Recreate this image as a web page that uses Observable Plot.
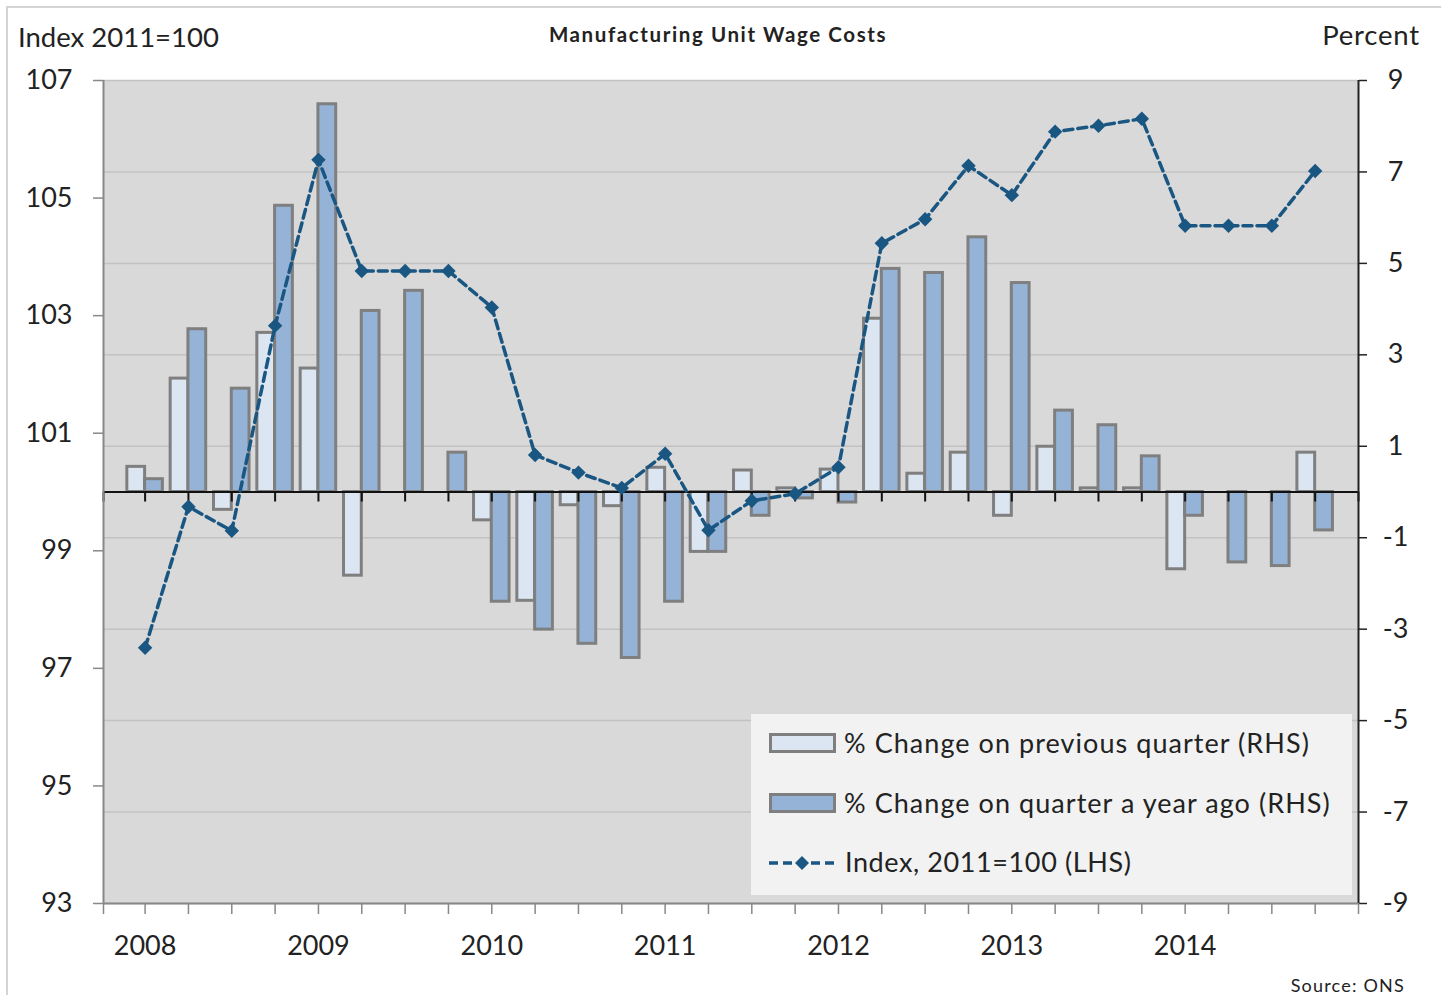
<!DOCTYPE html>
<html>
<head>
<meta charset="utf-8">
<script src="https://cdn.jsdelivr.net/npm/d3@7"></script>
<script src="https://cdn.jsdelivr.net/npm/@observablehq/plot@0.6"></script>
<style>
  body { margin: 0; background: #fff; font-family: Lato, sans-serif; color: #222; }
  #wrap { position: relative; width: 1441px; height: 995px; overflow: hidden; }
  .frame { position: absolute; left: 6px; top: 6px; right: -10px; bottom: -10px;
           border-top: 2px solid #d4d4d4; border-left: 2px solid #d4d4d4; pointer-events: none; }
  #head { height: 62px; }
  .t { position: absolute; white-space: nowrap; line-height: 1; }
  #legend { position: absolute; left: 751px; top: 714px; width: 601px; height: 181px; background: #f2f2f2; }
  .sw { position: absolute; overflow: visible; }
</style>
</head>
<body>
<div id="wrap">
  <div class="frame"></div>
  <div id="head">
    <span class="t" style="left:18px; top:23px; font-size:27.5px;">Index 2011=100</span>
    <span class="t" id="title" style="left:0; width:1436px; text-align:center; top:24px; font-size:20.5px; font-weight:700; letter-spacing:1.6px;">Manufacturing Unit Wage Costs</span>
    <span class="t" style="right:21px; top:21px; font-size:27.5px; letter-spacing:0.8px;">Percent</span>
  </div>
  <div id="chart"></div>
  <div id="legend"></div>
  <span class="t" style="right:36px; top:976px; font-size:18px; letter-spacing:1.2px;">Source: ONS</span>
</div>
<script>
// ---- data ----
const years = [2008, 2009, 2010, 2011, 2012, 2013, 2014];
const quarters = ["Q1", "Q2", "Q3", "Q4"];
// Index, 2011=100 (LHS)
const indexValues = [97.35, 99.75, 99.34, 102.83, 105.65, 103.76, 103.76, 103.76,
                     103.14, 100.63, 100.33, 100.07, 100.65, 99.35, 99.85, 99.97,
                     100.42, 104.23, 104.64, 105.55, 105.05, 106.13, 106.23, 106.35,
                     104.53, 104.53, 104.53, 105.46];
// % change on previous quarter (RHS)
const qoqValues = [0.55, 2.48, -0.39, 3.48, 2.70, -1.83, 0, 0,
                   -0.62, -2.38, -0.29, -0.31, 0.53, -1.31, 0.47, 0.08,
                   0.49, 3.79, 0.40, 0.86, -0.52, 0.99, 0.08, 0.08,
                   -1.69, 0, 0, 0.86];
// % change on quarter a year ago (RHS)
const yoyValues = [0.28, 3.56, 2.26, 6.26, 8.48, 3.96, 4.40, 0.86,
                   -2.40, -3.01, -3.32, -3.63, -2.40, -1.31, -0.52, -0.14,
                   -0.23, 4.88, 4.79, 5.57, 4.57, 1.78, 1.46, 0.78,
                   -0.52, -1.54, -1.62, -0.84];
const leftTicks = [93, 95, 97, 99, 101, 103, 105, 107];
const rightTicks = [-9, -7, -5, -3, -1, 1, 3, 5, 7, 9];
const seriesNames = ["% Change on previous quarter (RHS)", "% Change on quarter a year ago (RHS)", "Index, 2011=100 (LHS)"];

// ---- colours ----
const cLight = "#dce6f2", cDark = "#95b3d7", cEdge = "#7f7f7f", cLine = "#1a5682";

const rows = indexValues.map((v, i) => ({
  i, year: years[Math.floor(i / 4)], q: quarters[i % 4],
  index: v, qoq: qoqValues[i], yoy: yoyValues[i]
}));
// left axis (93..107) shares the vertical range with the right axis (-9..9)
const toPct = v => (v - 100) * 9 / 7;
const fromPct = p => p * 7 / 9 + 100;
const xDomain = [-0.96, 28];
const yDomain = [-9, 9];
const plotH = 823;
const tickLen = 10 * (yDomain[1] - yDomain[0]) / plotH; // 10px expressed in RHS units
const quarterTicks = [xDomain[0], ...d3.range(rows.length), xDomain[1]];
const yearTicks = years.map((y, k) => k * 4);

const chart = Plot.plot({
  width: 1441, height: 903,
  marginLeft: 103, marginRight: 83, marginTop: 18, marginBottom: 62,
  x: {type: "linear", domain: xDomain, axis: null, label: null},
  y: {domain: yDomain, axis: null, label: null},
  style: {fontFamily: "Lato, sans-serif", fontSize: "27px", color: "#222", overflow: "visible", background: "transparent"},
  marks: [
    Plot.frame({fill: "#d9d9d9", stroke: null}),
    Plot.gridY(rightTicks, {stroke: "#c2c2c2", strokeOpacity: 1, strokeWidth: 1.5}),
    Plot.rectY(rows, {x1: d => d.i - 0.41, x2: d => d.i, y: "qoq", fill: cLight, stroke: cEdge, strokeWidth: 3}),
    Plot.rectY(rows, {x1: d => d.i, x2: d => d.i + 0.41, y: "yoy", fill: cDark, stroke: cEdge, strokeWidth: 3}),
    Plot.ruleY([0], {stroke: "#111", strokeWidth: 2}),
    Plot.ruleX(quarterTicks, {x: d => d, y1: 0, y2: -tickLen, stroke: "#111", strokeWidth: 2}),
    Plot.ruleX([xDomain[0]], {stroke: "#888", strokeWidth: 2}),
    Plot.ruleX([xDomain[1]], {stroke: "#222", strokeWidth: 2}),
    Plot.ruleY([yDomain[0]], {stroke: "#888", strokeWidth: 2}),
    Plot.axisY(leftTicks.map(toPct), {anchor: "left", label: null, tickSize: 10, tickPadding: 21, stroke: "#888", strokeWidth: 1.5,
      tickFormat: d => String(Math.round(fromPct(d)))}),
    Plot.axisY(rightTicks, {anchor: "right", label: null, tickSize: 8, tickPadding: 29, textAnchor: "middle", stroke: "#222", strokeWidth: 1.5,
      tickFormat: d => String(d)}),
    Plot.axisX(quarterTicks, {anchor: "bottom", label: null, tickSize: 11, stroke: "#888", strokeWidth: 1.5, tickFormat: () => ""}),
    Plot.axisX(yearTicks, {anchor: "bottom", label: null, tickSize: 0, tickPadding: 32, tickFormat: d => String(years[d / 4])}),
    Plot.line(rows, {x: "i", y: d => toPct(d.index), stroke: cLine, strokeWidth: 3.5, strokeDasharray: "9,5"}),
    Plot.dot(rows, {x: "i", y: d => toPct(d.index), symbol: "diamond2", r: 6.5, fill: cLine, stroke: "none"})
  ]
});
document.getElementById("chart").appendChild(chart);

// ---- legend (inside plot area) ----
const legend = document.getElementById("legend");
const L = [
  {type: "bar", fill: cLight, top: 20, ls: 1.05},
  {type: "bar", fill: cDark, top: 80, ls: 1.05},
  {type: "line", top: 140, ls: 0.6}
];
L.forEach((it, k) => {
  const ns = "http://www.w3.org/2000/svg";
  const svg = document.createElementNS(ns, "svg");
  svg.setAttribute("class", "sw");
  svg.setAttribute("width", 72); svg.setAttribute("height", 24);
  svg.style.left = "17px"; svg.style.top = (it.top - 2) + "px";
  if (it.type === "bar") {
    const r = document.createElementNS(ns, "rect");
    r.setAttribute("x", 2.5); r.setAttribute("y", 2.5); r.setAttribute("width", 64); r.setAttribute("height", 17);
    r.setAttribute("fill", it.fill); r.setAttribute("stroke", cEdge); r.setAttribute("stroke-width", 3);
    svg.appendChild(r);
  } else {
    const l = document.createElementNS(ns, "line");
    l.setAttribute("x1", 1); l.setAttribute("x2", 70); l.setAttribute("y1", 11); l.setAttribute("y2", 11);
    l.setAttribute("stroke", cLine); l.setAttribute("stroke-width", 3.5); l.setAttribute("stroke-dasharray", "9,5");
    svg.appendChild(l);
    const p = document.createElementNS(ns, "path");
    p.setAttribute("d", "M34,4 L41,11 L34,18 L27,11 Z");
    p.setAttribute("fill", cLine);
    svg.appendChild(p);
  }
  legend.appendChild(svg);
  const s = document.createElement("span");
  s.className = "t";
  s.style.left = (it.type === "bar" ? 93 : 94) + "px";
  s.style.top = (it.type === "bar" ? it.top - 5 : it.top - 6) + "px";
  s.style.fontSize = "27px";
  s.style.letterSpacing = it.ls + "px";
  s.textContent = seriesNames[k];
  legend.appendChild(s);
});
</script>
</body>
</html>
